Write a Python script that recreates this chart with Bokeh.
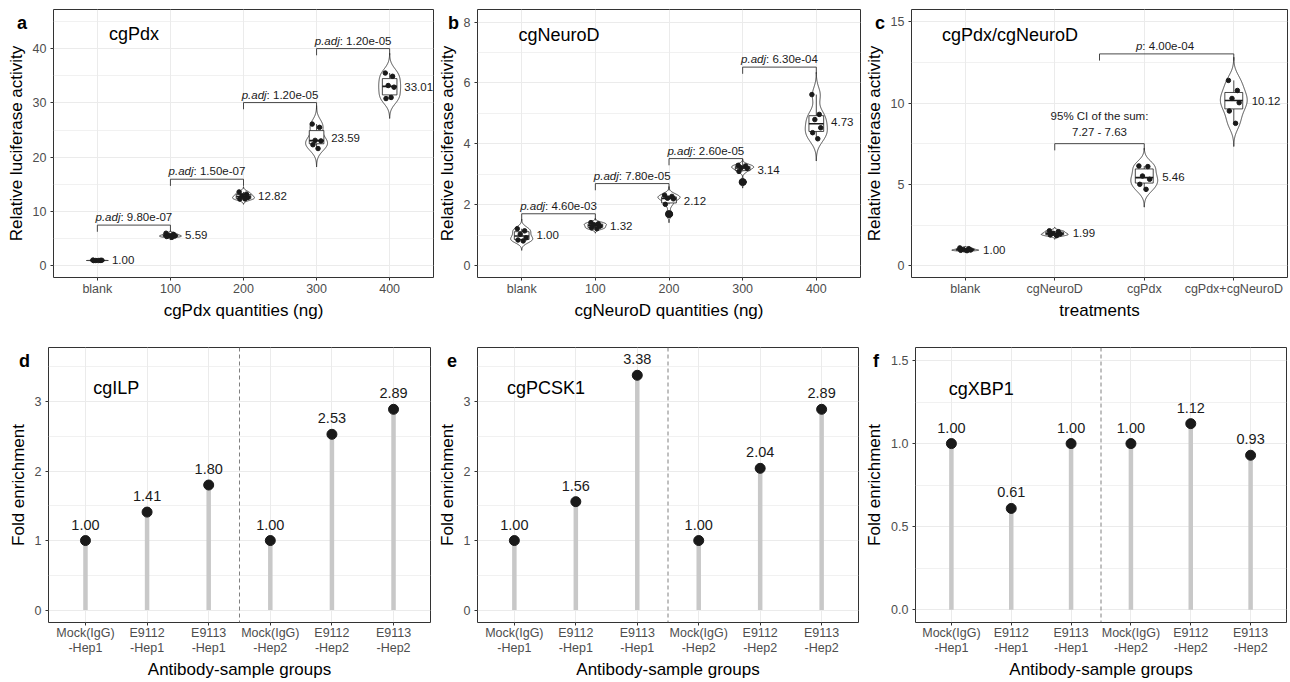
import numpy as np
from bokeh.plotting import figure
from bokeh.models import Range1d, FixedTicker, Span, Div, NumeralTickFormatter
from bokeh.layouts import row, column
from bokeh.embed import file_html
from bokeh.resources import INLINE
from bokeh.core.properties import value

FONT = "Liberation Sans"

# ---------------- data ----------------
a_cats = ["blank", "100", "200", "300", "400"]
a_blank = [1.05, 1.00, 0.98, 1.02, 0.97, 0.98]
a_100 = [6.00, 5.80, 5.60, 5.50, 5.40, 5.24]
a_200 = [13.60, 13.20, 12.90, 12.60, 12.30, 12.32]
a_300 = [26.10, 25.50, 23.10, 23.00, 22.30, 21.60]
a_400 = [35.50, 34.90, 33.20, 32.90, 30.80, 31.00]
a_means = [1.00, 5.59, 12.82, 23.59, 33.01]
a_pvals = ["9.80e-07", "1.50e-07", "1.20e-05", "1.20e-05"]
a_bracket_y = [7.5, 15.95, 30.06, 40.0]

b_cats = ["blank", "100", "200", "300", "400"]
b_blank = [1.22, 1.15, 1.04, 0.92, 0.85, 0.82]
b_100 = [1.42, 1.38, 1.35, 1.30, 1.25, 1.22]
b_200 = [2.32, 2.28, 2.22, 2.20, 2.02, 1.70]
b_300 = [3.30, 3.28, 3.22, 3.20, 3.10, 2.75]
b_400 = [5.62, 4.97, 4.80, 4.53, 4.37, 4.17]
b_means = [1.00, 1.32, 2.12, 3.14, 4.73]
b_pvals = ["4.60e-03", "7.80e-05", "2.60e-05", "6.30e-04"]
b_bracket_y = [1.71, 2.70, 3.52, 6.52]

c_cats = ["blank", "cgNeuroD", "cgPdx", "cgPdx+cgNeuroD"]
c_blank = [1.10, 1.05, 1.00, 0.97, 0.95, 0.93]
c_neuro = [2.15, 2.10, 2.00, 1.95, 1.90, 1.85]
c_pdx = [6.14, 6.10, 5.52, 5.32, 5.01, 4.70]
c_comb = [11.40, 10.78, 10.29, 10.03, 9.52, 8.76]
c_means = [1.00, 1.99, 5.46, 10.12]
c_ci_lines = ["95% CI of the sum:", "7.27 - 7.63"]
c_ci_y = 7.51
c_p = "4.00e-04"
c_p_y = 13.03

chip_cats = ["Mock(IgG)\n-Hep1", "E9112\n-Hep1", "E9113\n-Hep1",
             "Mock(IgG)\n-Hep2", "E9112\n-Hep2", "E9113\n-Hep2"]
d_vals = [1.00, 1.41, 1.80, 1.00, 2.53, 2.89]
e_vals = [1.00, 1.56, 3.38, 1.00, 2.04, 2.89]
f_vals = [1.00, 0.61, 1.00, 1.00, 1.12, 0.93]

# ---------------- styling helpers ----------------
VW = 0.30   # violin width
BW = 0.20   # box width
JIT = [-0.06, 0.04, -0.02, 0.06, -0.05, 0.02]


def make_fig(width, height, lb, tb, bb, xr, yr, yticks, yminor, xlabels, xtitle, ytitle):
    p = figure(width=width, height=height, x_range=Range1d(*xr), y_range=Range1d(*yr),
               output_backend="svg", toolbar_location=None,
               min_border_left=lb, min_border_right=1, min_border_top=tb, min_border_bottom=bb)
    p.outline_line_color = "#333333"
    p.outline_line_width = 1
    xt = list(range(1, len(xlabels) + 1))
    xtick = FixedTicker(ticks=xt, minor_ticks=[])
    ytick = FixedTicker(ticks=yticks, minor_ticks=yminor)
    p.xaxis.ticker = xtick
    p.yaxis.ticker = ytick
    p.xgrid.ticker = xtick
    p.ygrid.ticker = ytick
    p.xaxis.major_label_overrides = {k: v for k, v in zip(xt, xlabels)}
    p.xgrid.grid_line_color = "#ebebeb"
    p.ygrid.grid_line_color = "#ebebeb"
    p.xgrid.grid_line_width = 1
    p.ygrid.grid_line_width = 1
    p.ygrid.minor_grid_line_color = "#ebebeb"
    p.ygrid.minor_grid_line_width = 0.7
    for ax in (p.xaxis[0], p.yaxis[0]):
        ax.axis_line_color = None
        ax.major_tick_line_color = "#333333"
        ax.major_tick_out = 3
        ax.major_tick_in = 0
        ax.minor_tick_line_color = None
        ax.major_label_text_font = FONT
        ax.major_label_text_font_size = "12.5px"
        ax.major_label_text_color = "#4d4d4d"
        ax.axis_label_text_font = FONT
        ax.axis_label_text_font_size = "17px"
        ax.axis_label_text_font_style = "normal"
        ax.axis_label_text_color = "black"
    p.xaxis.major_label_standoff = 1
    p.yaxis.major_label_standoff = 3
    p.xaxis.axis_label = xtitle
    p.yaxis.axis_label = ytitle
    p.xaxis.axis_label_standoff = 2
    p.yaxis.axis_label_standoff = 4
    return p


def letter_div(txt, left, top):
    html = (f'<span style="font-family:\'{FONT}\';font-weight:bold;font-size:18px;'
            f'line-height:20px;color:black">{txt}</span>')
    return Div(text=html, width=14, height=20,
               styles={"position": "absolute", "left": f"{left}px", "top": f"{top}px",
                       "line-height": "20px", "z-index": "10"})


def panel_title(p, txt, x, y):
    p.text(x=[x], y=[y], text=[txt], text_font=value(FONT), text_font_size="18px",
           text_align="left", text_baseline="middle", text_color="black")


def kde(vals):
    v = np.asarray(vals, dtype=float)
    n = len(v)
    sd = v.std(ddof=1)
    q75, q25 = np.percentile(v, [75, 25])
    iqr = (q75 - q25) / 1.34
    s = min(sd, iqr) if iqr > 0 else sd
    bw = 0.9 * s * n ** -0.2
    ys = np.linspace(v.min() - 3 * bw, v.max() + 3 * bw, 300)
    dens = np.exp(-0.5 * ((ys[:, None] - v[None, :]) / bw) ** 2).sum(axis=1)
    return ys, dens / dens.max()


def violins(p, groups, means):
    for i, vals in enumerate(groups):
        cx = i + 1
        ys, d = kde(vals)
        xs = np.concatenate([cx - d * VW / 2, (cx + d * VW / 2)[::-1]])
        yy = np.concatenate([ys, ys[::-1]])
        p.patch(xs, yy, fill_color="white", line_color="#1a1a1a", line_width=0.8)
        v = np.asarray(vals)
        q1, med, q3 = np.percentile(v, [25, 50, 75])
        iqr = q3 - q1
        inl = v[(v >= q1 - 1.5 * iqr) & (v <= q3 + 1.5 * iqr)]
        out = v[(v < q1 - 1.5 * iqr) | (v > q3 + 1.5 * iqr)]
        p.segment(x0=[cx, cx], y0=[q3, q1], x1=[cx, cx], y1=[inl.max(), inl.min()],
                  line_color="#1a1a1a", line_width=0.8)
        p.quad(left=[cx - BW / 2], right=[cx + BW / 2], bottom=[q1], top=[q3],
               fill_color="white", line_color="#1a1a1a", line_width=0.8)
        p.segment(x0=[cx - BW / 2], y0=[med], x1=[cx + BW / 2], y1=[med],
                  line_color="#1a1a1a", line_width=1.6)
        if len(out):
            p.scatter([cx] * len(out), out, size=7, color="#1a1a1a")
        p.scatter([cx + j for j in JIT[:len(v)]], v, size=4.5, color="#1a1a1a")
    p.text(x=[i + 1.2 for i in range(len(means))], y=means, text=[f"{m:.2f}" for m in means],
           text_font=value(FONT), text_font_size="11.5px", text_align="left",
           text_baseline="middle", text_color="#1a1a1a")


def bracket(p, x1, x2, y, tip):
    p.multi_line(xs=[[x1, x1, x2, x2]], ys=[[y - tip, y, y, y - tip]],
                 line_color="#333333", line_width=0.9)


_W = {'.': .278, ':': .278, ' ': .278, '-': .333, 'j': .222}


def tw(s):
    return sum(_W.get(ch, .556) for ch in s)


def p_label(p, xc, y, ital, rest, fs=11.5):
    wi = tw(ital) * fs
    wt = tw(ital + rest) * fs
    off = -(wt / 2 - wi)
    p.text(x=[xc], y=[y], text=[ital], text_font=value(FONT), text_font_size=f"{fs}px",
           text_font_style="italic", text_align="right", text_baseline="middle",
           x_offset=off, y_offset=-8, text_color="#1a1a1a")
    p.text(x=[xc], y=[y], text=[rest], text_font=value(FONT), text_font_size=f"{fs}px",
           text_align="left", text_baseline="middle", x_offset=off, y_offset=-8,
           text_color="#1a1a1a")


# ---------------- panel a ----------------
TOP_H, BOT_H = 333, 348
TOP_TB, TOP_BB = 9, 56
BOT_TB, BOT_BB = 14, 54

a_rng = (-2.15, 47.2)
a_xr = (0.4, 5.6)
pa = make_fig(434, TOP_H, 53, TOP_TB, TOP_BB, a_xr, a_rng, [0, 10, 20, 30, 40],
              [5, 15, 25, 35, 45], a_cats, "cgPdx quantities (ng)", "Relative luciferase activity")
violins(pa, [a_blank, a_100, a_200, a_300, a_400], a_means)
tip_a = 0.025 * (a_rng[1] - a_rng[0])
for i, (yb, pv) in enumerate(zip(a_bracket_y, a_pvals)):
    bracket(pa, i + 1, i + 2, yb, tip_a)
    p_label(pa, i + 1.5, yb, "p.adj", ": " + pv)
panel_title(pa, "cgPdx", 1.16, 42.6)

# ---------------- panel b ----------------
b_rng = (-0.38, 8.41)
b_xr = (0.4, 5.6)
pb = make_fig(427, TOP_H, 40, TOP_TB, TOP_BB, b_xr, b_rng, [0, 2, 4, 6, 8], [1, 3, 5, 7],
              b_cats, "cgNeuroD quantities (ng)", "Relative luciferase activity")
violins(pb, [b_blank, b_100, b_200, b_300, b_400], b_means)
tip_b = 0.025 * (b_rng[1] - b_rng[0])
for i, (yb, pv) in enumerate(zip(b_bracket_y, b_pvals)):
    bracket(pb, i + 1, i + 2, yb, tip_b)
    p_label(pb, i + 1.5, yb, "p.adj", ": " + pv)
panel_title(pb, "cgNeuroD", 0.955, 7.59)

# ---------------- panel c ----------------
c_rng = (-0.72, 15.76)
c_xr = (0.4, 4.6)
pc = make_fig(427, TOP_H, 48, TOP_TB, TOP_BB, c_xr, c_rng, [0, 5, 10, 15], [2.5, 7.5, 12.5],
              c_cats, "treatments", "Relative luciferase activity")
violins(pc, [c_blank, c_neuro, c_pdx, c_comb], c_means)
tip_c = 0.025 * (c_rng[1] - c_rng[0])
bracket(pc, 2, 3, c_ci_y, tip_c)
pc.text(x=[2.5, 2.5], y=[c_ci_y, c_ci_y], text=c_ci_lines, text_font=value(FONT),
        text_font_size="11.5px", text_align="center", text_baseline="middle",
        y_offset=[-28, -12], text_color="#1a1a1a")
bracket(pc, 2.5, 4, c_p_y, tip_c)
p_label(pc, 3.25, c_p_y, "p", ":  " + c_p)
panel_title(pc, "cgPdx/cgNeuroD", 0.74, 14.2)


# ---------------- bottom panels ----------------
def lollipop(p, vals):
    xs = list(range(1, len(vals) + 1))
    p.segment(x0=xs, y0=[0] * len(xs), x1=xs, y1=vals, line_color="#c8c8c8", line_width=4.5)
    p.scatter(xs, vals, size=10, color="#1a1a1a")
    p.text(x=xs, y=vals, text=[f"{v:.2f}" for v in vals], text_font=value(FONT),
           text_font_size="14.5px", text_align="center", text_baseline="middle",
           y_offset=-16, text_color="#1a1a1a")
    p.add_layout(Span(location=3.5, dimension="height", line_color="#808080",
                      line_dash="4 3", line_width=1))
    p.xaxis.major_label_text_line_height = 1.1
    p.xaxis.major_label_standoff = 0


bot_xr = (0.4, 6.6)
de_rng = (-0.18, 3.78)
pd_ = make_fig(431, BOT_H, 48, BOT_TB, BOT_BB, bot_xr, de_rng, [0, 1, 2, 3], [0.5, 1.5, 2.5, 3.5],
               chip_cats, "Antibody-sample groups", "Fold enrichment")
lollipop(pd_, d_vals)
panel_title(pd_, "cgILP", 1.125, 3.19)

pe = make_fig(428, BOT_H, 46, BOT_TB, BOT_BB, bot_xr, de_rng, [0, 1, 2, 3], [0.5, 1.5, 2.5, 3.5],
              chip_cats, "Antibody-sample groups", "Fold enrichment")
lollipop(pe, e_vals)
panel_title(pe, "cgPCSK1", 0.88, 3.19)

f_rng = (-0.076, 1.578)
pf = make_fig(428, BOT_H, 56, BOT_TB, BOT_BB, bot_xr, f_rng, [0, 0.5, 1.0, 1.5], [0.25, 0.75, 1.25],
              chip_cats, "Antibody-sample groups", "Fold enrichment")
pf.yaxis.formatter = NumeralTickFormatter(format="0.0")
lollipop(pf, f_vals)
panel_title(pf, "cgXBP1", 0.955, 1.329)

letters = [letter_div("a", 12, 8), letter_div("b", 443, 8), letter_div("c", 870, 8),
           letter_div("d", 14, 346), letter_div("e", 442, 346), letter_div("f", 868, 346)]

layout = column(row(pa, pb, pc), row(pd_, pe, pf), *letters)
open("out.html", "w").write(file_html(layout, INLINE))
